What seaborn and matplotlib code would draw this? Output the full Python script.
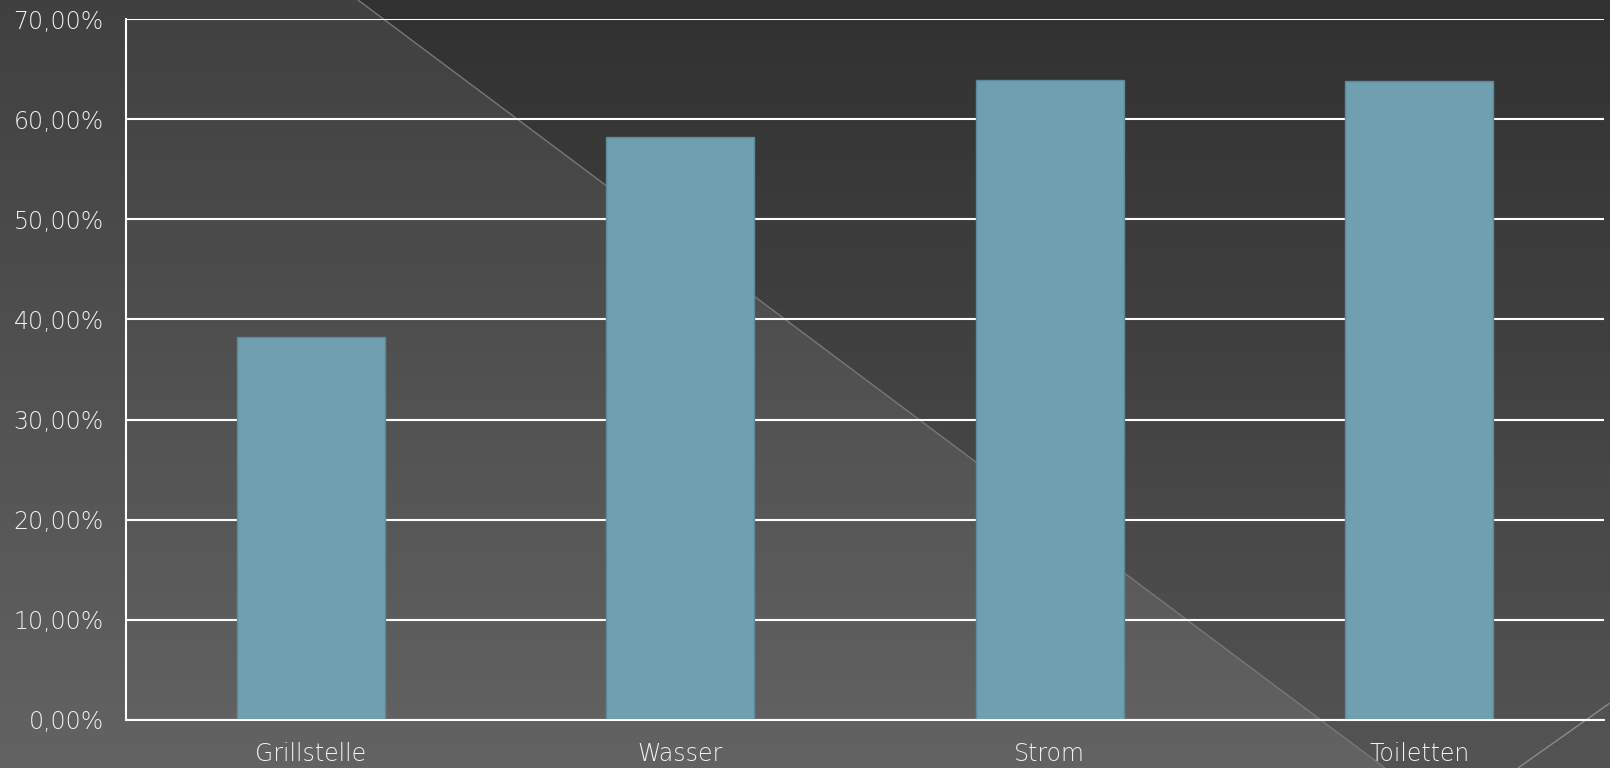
import numpy as np
import pandas as pd
import matplotlib
matplotlib.use("Agg")
import matplotlib.pyplot as plt
from matplotlib.ticker import FuncFormatter
import seaborn as sns

categories = ["Grillstelle", "Wasser", "Strom", "Toiletten"]
values = [38.25, 58.2, 63.95, 63.85]
y_ticks = [0, 10, 20, 30, 40, 50, 60, 70]

sns.set_theme(style="white")
plt.rcParams['font.family'] = ['DejaVu Sans']

W, H = 1610, 768
fig = plt.figure(figsize=(W / 100, H / 100), dpi=100)

# background
bg = fig.add_axes([0, 0, 1, 1], zorder=-10)
yy, xx = np.mgrid[0:H, 0:W]
base = 64 + (99 - 64) * (yy / H)
x_line = 358 + (1385 - 358) * (yy / 768.0)
dark = xx > x_line
img = base - np.where(dark, 15, 0)
img = np.clip(img, 0, 255) / 255.0
bg.imshow(np.dstack([img, img, img]), extent=[0, W, H, 0], aspect="auto", interpolation="bilinear")
bg.plot([358, 1385], [0, 768], color="#777777", lw=1)
bg.plot([1610, 1518], [703, 768], color="#8a8a8a", lw=1)
bg.set_xlim(0, W)
bg.set_ylim(H, 0)
bg.axis("off")

ax = fig.add_axes([126 / W, 1 - 720 / H, (1604 - 126) / W, (720 - 19) / H])
ax.set_facecolor("none")

df = pd.DataFrame({"cat": categories, "val": values})
sns.barplot(data=df, x="cat", y="val", ax=ax, width=0.4, color="#6fa0b0",
            saturation=1, edgecolor="#5b8a99", linewidth=1, zorder=3)

ax.set_ylim(0, 70)
ax.set_yticks(y_ticks)
ax.yaxis.set_major_formatter(FuncFormatter(lambda v, p: f"{v:.2f}%".replace(".", ",")))
ax.grid(axis="y", color="white", lw=1.5, zorder=1)
ax.set_axisbelow(True)
for s in ["top", "right"]:
    ax.spines[s].set_visible(False)
ax.spines["left"].set_color("white")
ax.spines["left"].set_linewidth(1.5)
ax.spines["bottom"].set_color("white")
ax.spines["bottom"].set_linewidth(1.5)
ax.spines["bottom"].set_zorder(4)
ax.tick_params(axis="y", length=0, pad=16, labelsize=17, labelcolor="#f2f2f2")
ax.tick_params(axis="x", length=0, pad=16, labelsize=17, labelcolor="#f2f2f2")
for t in ax.get_xticklabels() + ax.get_yticklabels():
    t.set_fontweight("light")
ax.set_xlabel("")
ax.set_ylabel("")

fig.savefig("out.png", dpi=100)
